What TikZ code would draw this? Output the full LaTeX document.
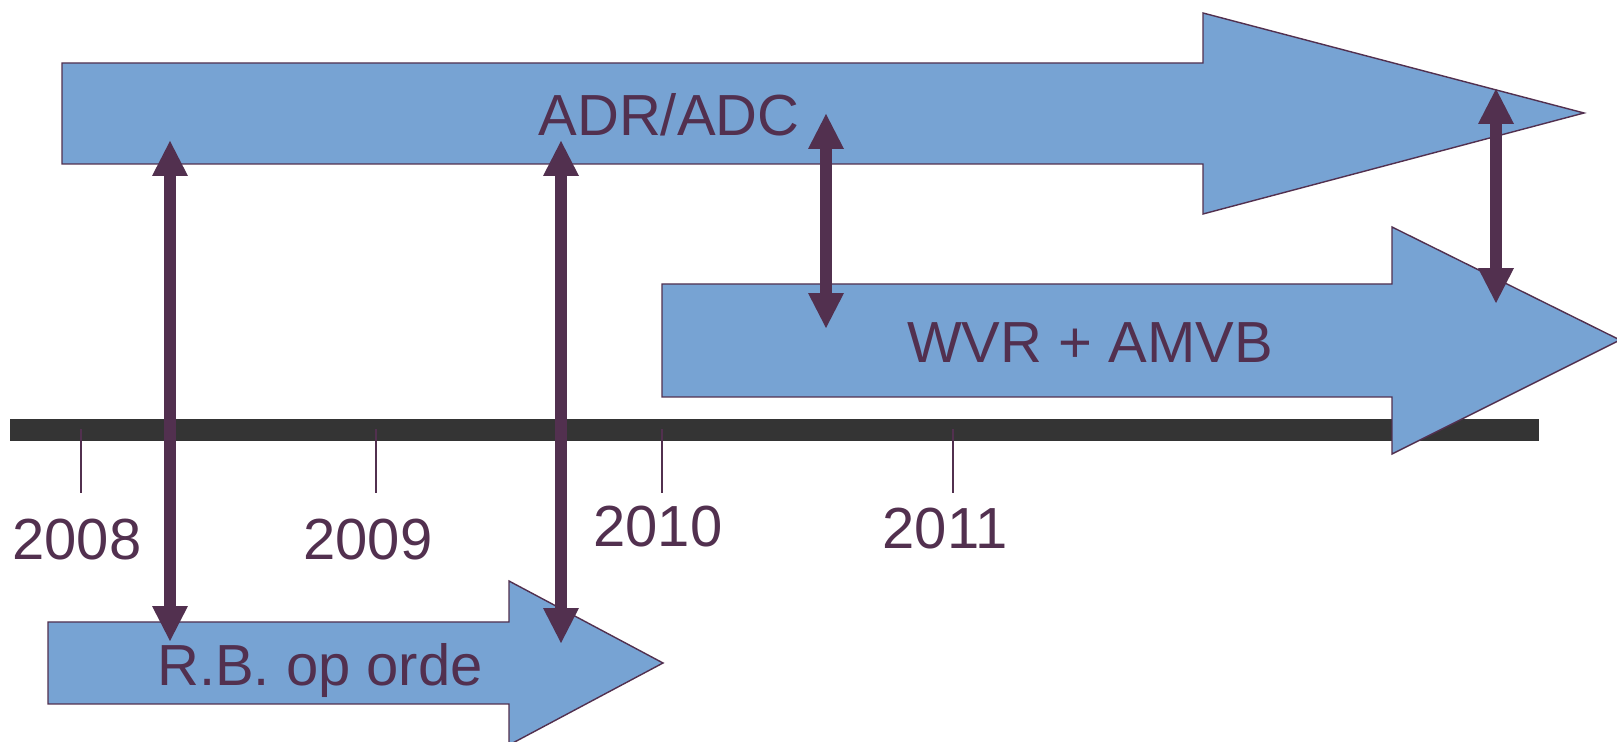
\documentclass[tikz,border=0pt]{standalone}
\usepackage{fontspec}
\usepackage{tikz}
\usetikzlibrary{arrows.meta}
\newfontfamily\arialfont{Liberation Sans}
\definecolor{boxblue}{HTML}{77A3D3}
\definecolor{darkplum}{HTML}{52304F}
\definecolor{bargray}{HTML}{343434}
\tikzset{
  blockarrow/.style={fill=boxblue, draw=darkplum, line width=0.8pt, line join=miter},
  label/.style={text=darkplum, inner sep=0pt, anchor=base, font=\arialfont\fontsize{33}{40}\selectfont},
  link/.style={draw=darkplum, line width=6.8pt,
    {Triangle[length=0.70cm, width=0.72cm, line width=0pt]}-{Triangle[length=0.70cm, width=0.72cm, line width=0pt]}}
}

\begin{document}
\begin{tikzpicture}[x=0.02cm, y=-0.02cm]
    \useasboundingbox (0,0) rectangle (1617,742);
    % block arrows and time line
    \draw [blockarrow] (62,63) -- (1203,63) -- (1203,13) -- (1584,113) -- (1203,214) -- (1203,164) -- (62,164) -- cycle;
    \fill [bargray] (10,419) rectangle (1539,441);
    \draw [blockarrow] (662,284) -- (1392,284) -- (1392,227) -- (1620,340) -- (1392,454) -- (1392,397) -- (662,397) -- cycle;
    \draw [blockarrow] (48,622) -- (509,622) -- (509,581) -- (663,663) -- (509,745) -- (509,704) -- (48,704) -- cycle;
    \foreach \x in {81,376,662,953}
      \draw [darkplum, line width=0.8pt] (\x,429) -- (\x,493);
    \node [label] (adr) at (669,136) {ADR/ADC};
    \node [label] (wvr) at (1090,363) {WVR + AMVB};
    \node [label] (rb) at (320,686) {R.B. op orde};
    \node [label] (y08) at (77,560) {2008};
    \node [label] (y09) at (368,560) {2009};
    \node [label] (y10) at (658,547) {2010};
    \node [label] (y11) at (945,549) {2011};
    % links between the plans
    \coordinate (l1a) at (170,141);
    \coordinate (l1b) at (170,641);
    \coordinate (l2a) at (561,141);
    \coordinate (l2b) at (561,643);
    \coordinate (l3a) at (826,114);
    \coordinate (l3b) at (826,328);
    \coordinate (l4a) at (1496,89);
    \coordinate (l4b) at (1496,303);
    \draw [link] (l1a) -- (l1b);
    \draw [link] (l2a) -- (l2b);
    \draw [link] (l3a) -- (l3b);
    \draw [link] (l4a) -- (l4b);
  \end{tikzpicture}
\end{document}
